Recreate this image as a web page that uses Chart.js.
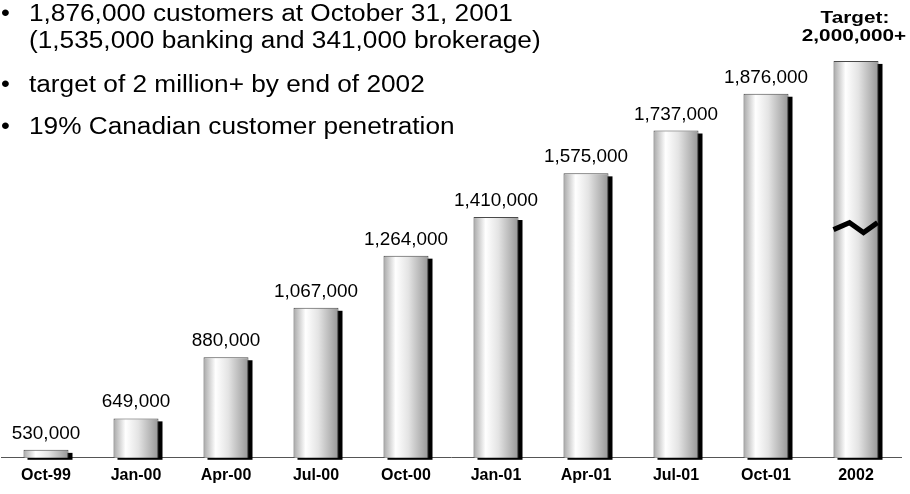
<!DOCTYPE html>
<html>
<head>
<meta charset="utf-8">
<title>Customers</title>
<script src="https://cdn.jsdelivr.net/npm/chart.js@4/dist/chart.umd.min.js"></script>
<style>
  html, body { margin: 0; padding: 0; background: #fff; }
</style>
</head>
<body>
<canvas id="customersChart" width="910" height="494"></canvas>
<script>
// quarter-end customer counts, 2002 is the target
const quarters = ['Oct-99', 'Jan-00', 'Apr-00', 'Jul-00', 'Oct-00', 'Jan-01', 'Apr-01', 'Jul-01', 'Oct-01', '2002']
const customers = [530000, 649000, 880000, 1067000, 1264000, 1410000, 1575000, 1737000, 1876000, 2000000]
const targetLabel = ['Target:', '2,000,000+']
const yMin = 500000
const yMax = 2200000

const notes = [
  { bullet: true, text: '1,876,000 customers at October 31, 2001' },
  { bullet: false, text: '(1,535,000 banking and 341,000 brokerage)' },
  { bullet: true, text: 'target of 2 million+ by end of 2002' },
  { bullet: true, text: '19% Canadian customer penetration' }
]

const FONT = '"Liberation Sans", Arial, sans-serif'
Chart.defaults.font.family = FONT

// slightly wide text, like the slide it came from
const wideText = (ctx, text, x, y, sx, align) => {
  ctx.save()
  ctx.translate(x, y)
  ctx.scale(sx, 1)
  ctx.textAlign = align
  ctx.textBaseline = 'alphabetic'
  ctx.fillText(text, 0, 0)
  ctx.restore()
}

const fmt = v => v.toLocaleString('en-US')

// cylinder shading for each bar
const barShade = (c) => {
  const chart = c.chart
  const xs = chart.scales.x
  if (!xs || c.dataIndex === undefined) return '#ddd'
  const cx = xs.getPixelForValue(c.dataIndex)
  const w = xs.width / quarters.length * 0.5
  if (!isFinite(cx) || !isFinite(w) || w <= 0) return '#ddd'
  const g = chart.ctx.createLinearGradient(cx - w / 2, 0, cx + w / 2, 0)
  g.addColorStop(0, '#a8a8a8')
  g.addColorStop(0.27, '#ffffff')
  g.addColorStop(0.55, '#e4e4e4')
  g.addColorStop(1, '#979797')
  return g
}

// bars start below the axis minimum, so cut them at the axis line
const barBox = (chart, bar) => {
  const { x, y, base, width } = bar.getProps(['x', 'y', 'base', 'width'], true)
  return { x, y, width, bottom: Math.min(base, chart.chartArea.bottom) }
}

const shadows = {
  id: 'shadows',
  beforeDatasetsDraw(chart) {
    const ctx = chart.ctx
    ctx.save()
    ctx.fillStyle = '#000'
    chart.getDatasetMeta(0).data.forEach(bar => {
      const b = barBox(chart, bar)
      ctx.fillRect(b.x - b.width / 2 + 4, b.y + 3, b.width, b.bottom - b.y - 1)
    })
    ctx.restore()
  }
}

const annotations = {
  id: 'annotations',
  afterDatasetsDraw(chart) {
    const ctx = chart.ctx
    const bars = chart.getDatasetMeta(0).data
    ctx.save()
    ctx.fillStyle = '#000'

    // values over the bars
    ctx.font = '17.5px ' + FONT
    bars.forEach((bar, i) => {
      if (i === bars.length - 1) return
      wideText(ctx, fmt(customers[i]), bar.x, bar.y - 11, 1.08, 'center')
    })

    // target label and break mark on the last bar
    const last = barBox(chart, bars[bars.length - 1])
    ctx.font = 'bold 17px ' + FONT
    wideText(ctx, targetLabel[0], last.x - 1, 23, 1.22, 'center')
    wideText(ctx, targetLabel[1], last.x - 2, 41, 1.22, 'center')

    const left = last.x - last.width / 2
    const yc = last.bottom - 0.58 * (last.bottom - last.y)
    ctx.strokeStyle = '#000'
    ctx.lineWidth = 5
    ctx.lineJoin = 'miter'
    ctx.beginPath()
    ctx.moveTo(left, yc + 2)
    ctx.lineTo(left + 16, yc - 5)
    ctx.lineTo(left + 30, yc + 5)
    ctx.lineTo(left + 44, yc - 5)
    ctx.stroke()

    // bullet points in the top left
    ctx.font = '23px ' + FONT
    const baselines = [21, 47.5, 91.5, 133.5]
    notes.forEach((n, i) => {
      if (n.bullet) wideText(ctx, '\u2022', 1, baselines[i], 1.1, 'left')
      wideText(ctx, n.text, 29, baselines[i], 1.14, 'left')
    })
    ctx.restore()
  }
}

new Chart(document.getElementById('customersChart'), {
  type: 'bar',
  data: {
    labels: quarters,
    datasets: [{
      data: customers,
      backgroundColor: barShade,
      borderColor: '#4a4a4a',
      borderWidth: 1,
      borderSkipped: false,
      categoryPercentage: 1,
      barPercentage: 0.5
    }]
  },
  options: {
    responsive: false,
    animation: false,
    devicePixelRatio: 1,
    layout: { padding: { top: 8, left: 1, right: 9, bottom: 1 } },
    plugins: {
      legend: { display: false },
      tooltip: { enabled: false }
    },
    scales: {
      x: {
        grid: { display: false, drawTicks: false },
        border: { display: true, color: '#555', width: 1 },
        ticks: {
          color: '#000',
          font: { size: 16, weight: 'bold' },
          padding: 8,
          maxRotation: 0,
          autoSkip: false
        }
      },
      y: {
        display: false,
        min: yMin,
        max: yMax
      }
    }
  },
  plugins: [shadows, annotations]
})
</script>
</body>
</html>
